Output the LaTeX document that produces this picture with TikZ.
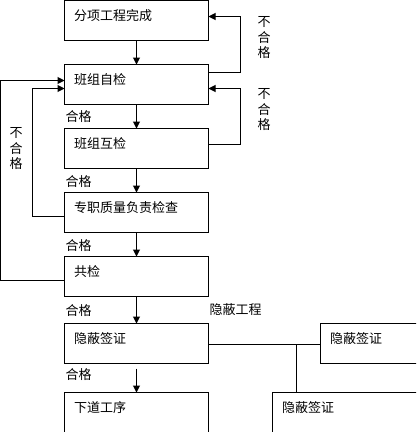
\documentclass[tikz,border=0pt]{standalone}
\usepackage{fontspec}
\newfontfamily\cjk{Noto Sans CJK SC}
\usetikzlibrary{arrows.meta,calc}
\tikzset{
  box/.style={draw=black, line width=1pt, fill=white, minimum width=144pt, minimum height=40pt, inner sep=0pt, outer sep=0pt, anchor=north west},
  openbox/.style={draw=black, line width=1pt, fill=white, minimum width=160pt, minimum height=40pt, inner sep=0pt, outer sep=0pt, anchor=north west},
  txt/.style={font=\cjk\fontsize{13}{15.5}\selectfont, inner sep=0pt, anchor=west},
  vtxt/.style={font=\cjk\fontsize{13}{15.5}\selectfont, inner sep=0pt, align=center},
  conn/.style={line width=1pt, draw=black},
  arr/.style={conn, -{Triangle[length=7pt,width=7pt]}}
}
\begin{document}
\begin{tikzpicture}[x=1pt,y=-1pt]
\useasboundingbox (0,0) rectangle (416,432);
\clip (0,0) rectangle (416,432);
% boxes
\node[box] (b1) at (64.5,0.5) {};
\node[box] (b2) at (64.5,64.5) {};
\node[box] (b3) at (64.5,128.5) {};
\node[box] (b4) at (64.5,192.5) {};
\node[box] (b5) at (64.5,256.5) {};
\node[box] (b6) at (64.5,323.5) {};
\node[box] (b7) at (64.5,392.5) {};
\node[openbox] (rA) at (320.5,323.5) {};
\node[openbox] (rB) at (272.5,392.5) {};
% box texts
\node[txt] (t1) at ($(b1.north west)+(9.5,15)$) {分项工程完成};
\node[txt] (t2) at ($(b2.north west)+(9.5,15)$) {班组自检};
\node[txt] (t3) at ($(b3.north west)+(9.5,15)$) {班组互检};
\node[txt] (t4) at ($(b4.north west)+(9.5,15)$) {专职质量负责检查};
\node[txt] (t5) at ($(b5.north west)+(9.5,15)$) {共检};
\node[txt] (t6) at ($(b6.north west)+(9.5,15)$) {隐蔽签证};
\node[txt] (t7) at ($(b7.north west)+(9.5,15)$) {下道工序};
\node[txt] (tA) at ($(rA.north west)+(9.5,15)$) {隐蔽签证};
\node[txt] (tB) at ($(rB.north west)+(9.5,15)$) {隐蔽签证};
% main arrows
\draw[arr] (b1.south) -- (b2.north);
\draw[arr] (b2.south) -- (b3.north);
\draw[arr] (b3.south) -- (b4.north);
\draw[arr] (b4.south) -- (b5.north);
\draw[arr] (b5.south) -- (b6.north);
\draw[arr] ($(b6.south)+(0,5)$) -- (b7.north);
% pass labels
\node[txt] (p1) at (65.5,117) {合格};
\node[txt] (p2) at (65.5,182) {合格};
\node[txt] (p3) at (65.5,246) {合格};
\node[txt] (p4) at (65.5,311) {合格};
\node[txt] (p5) at (65.5,375) {合格};
\node[txt] (hid) at (209.5,310) {隐蔽工程};
% feedback loops right
\draw[arr] ($(b2.north east)+(0,8)$) -- ++(32,0) |- ($(b1.north east)+(0,16)$);
\draw[arr] ($(b3.north east)+(0,16)$) -- ++(32,0) |- ($(b2.north east)+(0,24)$);
% feedback loops left
\draw[arr] ($(b5.north west)+(0,24)$) -- ++(-64,0) |- ($(b2.north west)+(0,16)$);
\draw[arr] ($(b4.north west)+(0,24)$) -- ++(-32,0) |- ($(b2.north west)+(0,24)$);
% fail labels
\node[vtxt] (f1) at (264,38) {不\\合\\格};
\node[vtxt] (f2) at (264,110) {不\\合\\格};
\node[vtxt] (f3) at (16,149) {不\\合\\格};
% hidden work connection
\draw[conn] ($(b6.north east)+(0,21)$) -- ($(rA.north west)+(0,21)$);
\draw[conn] ($(rB.north west)+(24,-48)$) -- ($(rB.north west)+(24,0)$);
\end{tikzpicture}
\end{document}
